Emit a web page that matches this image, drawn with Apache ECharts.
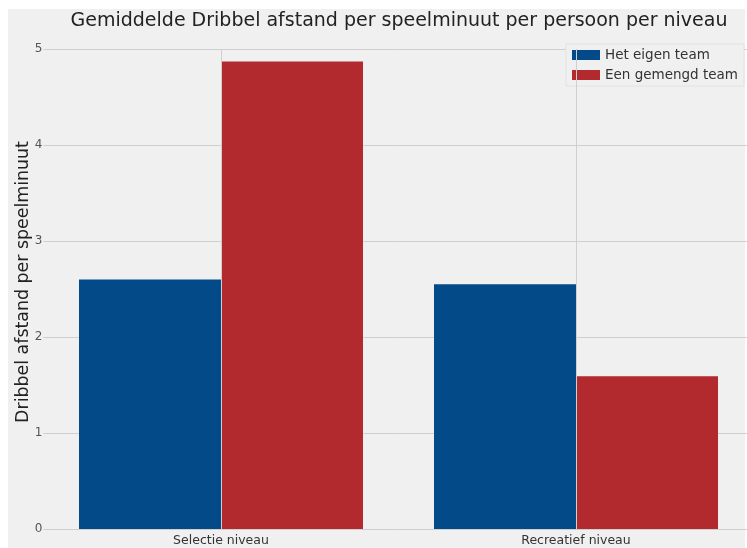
<!DOCTYPE html>
<html>
<head>
<meta charset="utf-8">
<script src="https://cdn.jsdelivr.net/npm/echarts@6/dist/echarts.min.js"></script>
<style>
  html, body { margin: 0; padding: 0; background: #ffffff; overflow: hidden; width: 747px; height: 548px; }
  #bg { position: absolute; left: 8px; top: 9px; width: 737px; height: 539px; background: #f0f0f0; }
  #chart { position: absolute; left: 0; top: 0; width: 760px; height: 548px; }
</style>
</head>
<body>
<div id="bg"></div>
<div id="chart"></div>
<script>
const categories = ['Selectie niveau', 'Recreatief niveau'];
const eigenTeam = [2.60, 2.55];
const gemengdTeam = [4.87, 1.59];
const seriesNames = ['Het eigen team', 'Een gemengd team'];
const yTicks = [0, 1, 2, 3, 4, 5];

const chart = echarts.init(document.getElementById('chart'), null, { renderer: 'canvas' });
const font = 'DejaVu Sans';
chart.setOption({
  backgroundColor: 'transparent',
  animation: false,
  title: {
    text: 'Gemiddelde Dribbel afstand per speelminuut per persoon per niveau',
    left: 394, top: 7, textAlign: 'center',
    textStyle: { fontFamily: font, fontSize: 19, fontWeight: 'normal', color: '#222222' }
  },
  legend: {
    orient: 'vertical', right: 16, top: 44,
    itemWidth: 28, itemHeight: 10, itemGap: 6,
    padding: [4, 6, 4, 6],
    icon: 'rect',
    borderColor: '#e2e2e2', borderWidth: 1, backgroundColor: '#f0f0f0',
    textStyle: { fontFamily: font, fontSize: 13.5, color: '#333333' },
    data: seriesNames
  },
  grid: { left: 43.5, top: 49, width: 710, bottom: 19, containLabel: false, outerBoundsMode: 'none' },
  xAxis: {
    type: 'category', data: categories,
    axisLine: { show: false }, axisTick: { show: false }, splitLine: { show: false },
    axisLabel: { fontFamily: font, fontSize: 12.5, color: '#333333', margin: 5 }
  },
  yAxis: {
    type: 'value', min: yTicks[0], max: yTicks[yTicks.length - 1], interval: 1,
    name: 'Dribbel afstand per speelminuut', nameLocation: 'middle', nameGap: 12,
    nameMoveOverlap: false,
    nameTextStyle: { fontFamily: font, fontSize: 17.4, color: '#222222', padding: [0, 0, 0, 14] },
    axisLine: { show: false }, axisTick: { show: false },
    splitLine: { lineStyle: { color: '#cfcfcf', width: 1 } },
    axisLabel: { fontFamily: font, fontSize: 12, color: '#555555', margin: 1 }
  },
  series: [
    {
      name: 'grid', type: 'line', data: [], silent: true, z: 0,
      markLine: {
        silent: true, symbol: 'none', label: { show: false },
        lineStyle: { color: '#cfcfcf', type: 'solid', width: 1 },
        data: [{ xAxis: categories[0] }, { xAxis: categories[1] }]
      }
    },
    {
      name: seriesNames[0], type: 'bar', data: eigenTeam,
      barWidth: 142, barGap: '0%',
      itemStyle: { color: '#034a89' }
    },
    {
      name: seriesNames[1], type: 'bar', data: gemengdTeam,
      barWidth: 142, barGap: '0%',
      itemStyle: { color: '#b2292e' }
    }
  ]
});
</script>
</body>
</html>
